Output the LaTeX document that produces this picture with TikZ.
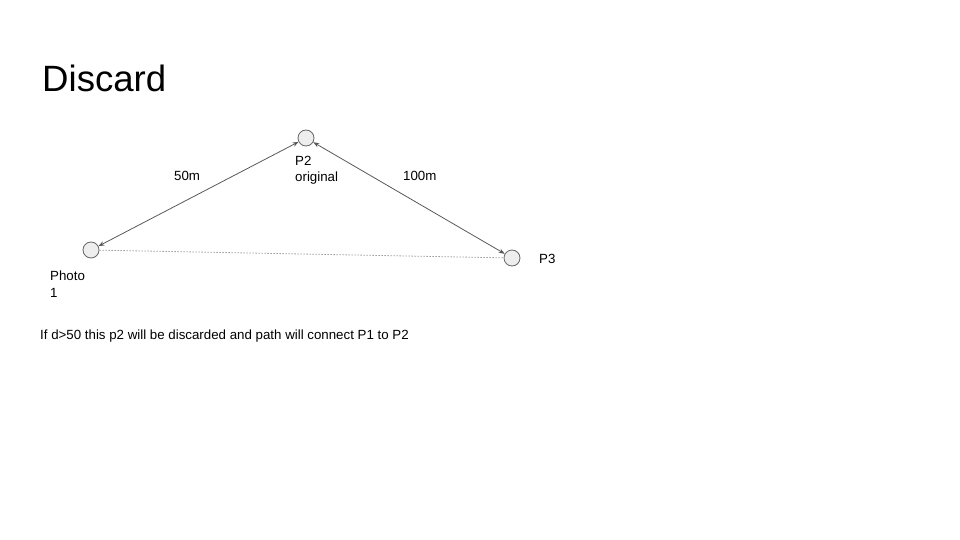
\documentclass[tikz,border=0pt]{standalone}
\usepackage{fontspec}
\setmainfont{Liberation Sans}
\usepackage{xcolor}
\usepackage{tikz}
\usetikzlibrary{positioning,arrows.meta}
\definecolor{ptfill}{HTML}{EEEEEE}
\definecolor{ptedge}{HTML}{666666}
\definecolor{linkgray}{HTML}{595959}
\definecolor{dotgray}{HTML}{A0A0A0}

\begin{document}
\begin{tikzpicture}[
  x=1pt, y=-1pt,
  point/.style={circle, draw=ptedge, fill=ptfill, line width=0.8pt, minimum size=16pt, inner sep=0pt},
  lbl/.style={font=\fontsize{13.3}{17}\selectfont, anchor=base west, inner sep=0pt, align=left},
  link/.style={{Stealth[length=6pt,width=4.5pt]}-{Stealth[length=6pt,width=4.5pt]}, draw=linkgray, line width=0.8pt},
  skip/.style={draw=dotgray, dash pattern=on 1.5pt off 1.5pt, line width=0.8pt},
]
\useasboundingbox (0,0) rectangle (960,540);
% ---------- title ----------
\node[font=\fontsize{36.6}{44}\selectfont, anchor=base west, inner sep=0pt] (title) at (42,92) {Discard};
% ---------- points ----------
\node[point] (p1) at (91,250) {};
\node[point] (p2) at (306,138) {};
\node[point] (p3) at (512,258) {};
% ---------- point labels (base = last line) ----------
\node[lbl] (p1lbl) at (50,297) {Photo\\1};
\node[lbl] (p2lbl) at (295,182) {P2\\original};
\node[lbl] (p3lbl) at (539,263) {P3};
% ---------- distances ----------
\node[lbl] (d12) at (174,180) {50m};
\node[lbl] (d23) at (403,180) {100m};
\draw[link] (p2) -- (p1);
\draw[link] (p2) -- (p3);
\draw[skip] (p1) -- (p3);
% ---------- note ----------
\node[lbl] (note) at (40,339) {If d>50 this p2 will be discarded and path will connect P1 to P2};
\end{tikzpicture}
\end{document}
